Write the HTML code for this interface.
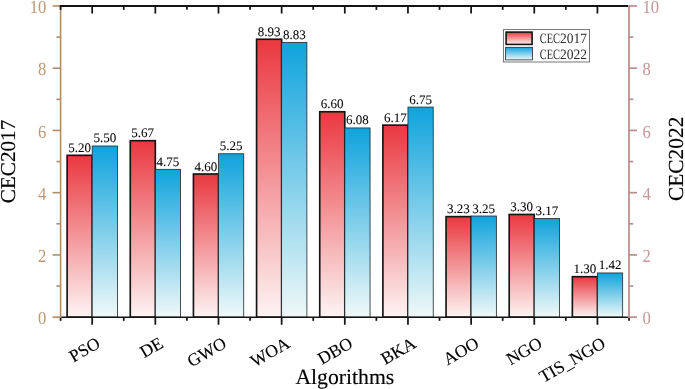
<!DOCTYPE html>
<html lang="en"><head><meta charset="utf-8"><title>Algorithms CEC2017 CEC2022</title>
<style>html,body{margin:0;padding:0;background:#fff;}body{width:685px;height:389px;overflow:hidden;}svg{display:block;}text{font-family:"Liberation Serif",serif;text-rendering:geometricPrecision;}</style>
</head><body>
<svg width="685" height="389" viewBox="0 0 685 389">
<defs>
<linearGradient id="gr" x1="0" y1="0" x2="0" y2="1"><stop offset="0" stop-color="#e9383f"/><stop offset="1" stop-color="#fdf4f3"/></linearGradient>
<linearGradient id="gb" x1="0" y1="0" x2="0" y2="1"><stop offset="0" stop-color="#0fa3dc"/><stop offset="1" stop-color="#f0f9f8"/></linearGradient>
</defs>
<rect x="0" y="0" width="685" height="389" fill="#ffffff"/>
<rect x="67.12" y="155.33" width="25.06" height="161.82" fill="url(#gr)" stroke="#141414" stroke-width="1.65"/>
<rect x="92.18" y="145.99" width="25.26" height="171.16" fill="url(#gb)" stroke="#20272a" stroke-width="0.8"/>
<rect x="130.27" y="140.70" width="25.06" height="176.45" fill="url(#gr)" stroke="#141414" stroke-width="1.65"/>
<rect x="155.33" y="169.33" width="25.26" height="147.82" fill="url(#gb)" stroke="#20272a" stroke-width="0.8"/>
<rect x="193.43" y="174.00" width="25.06" height="143.15" fill="url(#gr)" stroke="#141414" stroke-width="1.65"/>
<rect x="218.49" y="153.77" width="25.26" height="163.38" fill="url(#gb)" stroke="#20272a" stroke-width="0.8"/>
<rect x="256.58" y="39.25" width="25.06" height="277.90" fill="url(#gr)" stroke="#141414" stroke-width="1.65"/>
<rect x="281.64" y="42.36" width="25.26" height="274.79" fill="url(#gb)" stroke="#20272a" stroke-width="0.8"/>
<rect x="319.74" y="111.76" width="25.06" height="205.39" fill="url(#gr)" stroke="#141414" stroke-width="1.65"/>
<rect x="344.80" y="127.94" width="25.26" height="189.21" fill="url(#gb)" stroke="#20272a" stroke-width="0.8"/>
<rect x="382.89" y="125.14" width="25.06" height="192.01" fill="url(#gr)" stroke="#141414" stroke-width="1.65"/>
<rect x="407.96" y="107.09" width="25.26" height="210.06" fill="url(#gb)" stroke="#20272a" stroke-width="0.8"/>
<rect x="446.05" y="216.63" width="25.06" height="100.52" fill="url(#gr)" stroke="#141414" stroke-width="1.65"/>
<rect x="471.11" y="216.01" width="25.26" height="101.14" fill="url(#gb)" stroke="#20272a" stroke-width="0.8"/>
<rect x="509.20" y="214.45" width="25.06" height="102.70" fill="url(#gr)" stroke="#141414" stroke-width="1.65"/>
<rect x="534.27" y="218.50" width="25.26" height="98.65" fill="url(#gb)" stroke="#20272a" stroke-width="0.8"/>
<rect x="572.36" y="276.69" width="25.06" height="40.46" fill="url(#gr)" stroke="#141414" stroke-width="1.65"/>
<rect x="597.42" y="272.96" width="25.26" height="44.19" fill="url(#gb)" stroke="#20272a" stroke-width="0.8"/>
<text x="79.55" y="151.83" font-size="13" text-anchor="middle" fill="#000" stroke="#000" stroke-width="0.06">5.20</text>
<text x="104.81" y="142.49" font-size="13" text-anchor="middle" fill="#000" stroke="#000" stroke-width="0.06">5.50</text>
<text x="142.70" y="137.20" font-size="13" text-anchor="middle" fill="#000" stroke="#000" stroke-width="0.06">5.67</text>
<text x="167.96" y="165.83" font-size="13" text-anchor="middle" fill="#000" stroke="#000" stroke-width="0.06">4.75</text>
<text x="205.86" y="170.50" font-size="13" text-anchor="middle" fill="#000" stroke="#000" stroke-width="0.06">4.60</text>
<text x="231.12" y="150.27" font-size="13" text-anchor="middle" fill="#000" stroke="#000" stroke-width="0.06">5.25</text>
<text x="269.01" y="35.75" font-size="13" text-anchor="middle" fill="#000" stroke="#000" stroke-width="0.06">8.93</text>
<text x="294.28" y="38.86" font-size="13" text-anchor="middle" fill="#000" stroke="#000" stroke-width="0.06">8.83</text>
<text x="332.17" y="108.26" font-size="13" text-anchor="middle" fill="#000" stroke="#000" stroke-width="0.06">6.60</text>
<text x="357.43" y="124.44" font-size="13" text-anchor="middle" fill="#000" stroke="#000" stroke-width="0.06">6.08</text>
<text x="395.32" y="121.64" font-size="13" text-anchor="middle" fill="#000" stroke="#000" stroke-width="0.06">6.17</text>
<text x="420.59" y="103.59" font-size="13" text-anchor="middle" fill="#000" stroke="#000" stroke-width="0.06">6.75</text>
<text x="458.48" y="213.13" font-size="13" text-anchor="middle" fill="#000" stroke="#000" stroke-width="0.06">3.23</text>
<text x="483.74" y="212.51" font-size="13" text-anchor="middle" fill="#000" stroke="#000" stroke-width="0.06">3.25</text>
<text x="521.64" y="210.95" font-size="13" text-anchor="middle" fill="#000" stroke="#000" stroke-width="0.06">3.30</text>
<text x="546.90" y="215.00" font-size="13" text-anchor="middle" fill="#000" stroke="#000" stroke-width="0.06">3.17</text>
<text x="584.79" y="273.19" font-size="13" text-anchor="middle" fill="#000" stroke="#000" stroke-width="0.06">1.30</text>
<text x="610.05" y="269.46" font-size="13" text-anchor="middle" fill="#000" stroke="#000" stroke-width="0.06">1.42</text>
<g stroke="#b38c64" stroke-width="1.6" fill="none">
<line x1="60.6" y1="5.2" x2="60.6" y2="317.9"/>
<line x1="52.60" y1="317.15" x2="60.6" y2="317.15"/>
<line x1="56.40" y1="286.03" x2="60.6" y2="286.03"/>
<line x1="52.60" y1="254.91" x2="60.6" y2="254.91"/>
<line x1="56.40" y1="223.79" x2="60.6" y2="223.79"/>
<line x1="52.60" y1="192.67" x2="60.6" y2="192.67"/>
<line x1="56.40" y1="161.55" x2="60.6" y2="161.55"/>
<line x1="52.60" y1="130.43" x2="60.6" y2="130.43"/>
<line x1="56.40" y1="99.31" x2="60.6" y2="99.31"/>
<line x1="52.60" y1="68.19" x2="60.6" y2="68.19"/>
<line x1="56.40" y1="37.07" x2="60.6" y2="37.07"/>
<line x1="52.60" y1="5.95" x2="60.6" y2="5.95"/>
</g>
<g stroke="#141414" stroke-width="1.75" fill="none">
<line x1="59.80" y1="5.95" x2="628.20" y2="5.95" stroke-width="1.9"/>
<line x1="61.40" y1="317.20" x2="628.20" y2="317.20" stroke-width="1.6"/>
<line x1="92.18" y1="5.95" x2="92.18" y2="13.55"/>
<line x1="92.18" y1="317.15" x2="92.18" y2="324.75"/>
<line x1="155.33" y1="5.95" x2="155.33" y2="13.55"/>
<line x1="155.33" y1="317.15" x2="155.33" y2="324.75"/>
<line x1="218.49" y1="5.95" x2="218.49" y2="13.55"/>
<line x1="218.49" y1="317.15" x2="218.49" y2="324.75"/>
<line x1="281.64" y1="5.95" x2="281.64" y2="13.55"/>
<line x1="281.64" y1="317.15" x2="281.64" y2="324.75"/>
<line x1="344.80" y1="5.95" x2="344.80" y2="13.55"/>
<line x1="344.80" y1="317.15" x2="344.80" y2="324.75"/>
<line x1="407.96" y1="5.95" x2="407.96" y2="13.55"/>
<line x1="407.96" y1="317.15" x2="407.96" y2="324.75"/>
<line x1="471.11" y1="5.95" x2="471.11" y2="13.55"/>
<line x1="471.11" y1="317.15" x2="471.11" y2="324.75"/>
<line x1="534.27" y1="5.95" x2="534.27" y2="13.55"/>
<line x1="534.27" y1="317.15" x2="534.27" y2="324.75"/>
<line x1="597.42" y1="5.95" x2="597.42" y2="13.55"/>
<line x1="597.42" y1="317.15" x2="597.42" y2="324.75"/>
<line x1="60.60" y1="5.95" x2="60.60" y2="9.85"/>
<line x1="60.60" y1="317.90" x2="60.60" y2="320.85"/>
<line x1="123.76" y1="5.95" x2="123.76" y2="9.85"/>
<line x1="123.76" y1="317.15" x2="123.76" y2="320.85"/>
<line x1="186.91" y1="5.95" x2="186.91" y2="9.85"/>
<line x1="186.91" y1="317.15" x2="186.91" y2="320.85"/>
<line x1="250.07" y1="5.95" x2="250.07" y2="9.85"/>
<line x1="250.07" y1="317.15" x2="250.07" y2="320.85"/>
<line x1="313.22" y1="5.95" x2="313.22" y2="9.85"/>
<line x1="313.22" y1="317.15" x2="313.22" y2="320.85"/>
<line x1="376.38" y1="5.95" x2="376.38" y2="9.85"/>
<line x1="376.38" y1="317.15" x2="376.38" y2="320.85"/>
<line x1="439.53" y1="5.95" x2="439.53" y2="9.85"/>
<line x1="439.53" y1="317.15" x2="439.53" y2="320.85"/>
<line x1="502.69" y1="5.95" x2="502.69" y2="9.85"/>
<line x1="502.69" y1="317.15" x2="502.69" y2="320.85"/>
<line x1="565.84" y1="5.95" x2="565.84" y2="9.85"/>
<line x1="565.84" y1="317.15" x2="565.84" y2="320.85"/>
<line x1="629.00" y1="317.90" x2="629.00" y2="320.85"/>
</g>
<g stroke="#bb8b8e" stroke-width="1.7" fill="none">
<line x1="629.0" y1="5.2" x2="629.0" y2="317.9"/>
<line x1="629.0" y1="317.15" x2="637.00" y2="317.15"/>
<line x1="629.0" y1="286.03" x2="633.20" y2="286.03"/>
<line x1="629.0" y1="254.91" x2="637.00" y2="254.91"/>
<line x1="629.0" y1="223.79" x2="633.20" y2="223.79"/>
<line x1="629.0" y1="192.67" x2="637.00" y2="192.67"/>
<line x1="629.0" y1="161.55" x2="633.20" y2="161.55"/>
<line x1="629.0" y1="130.43" x2="637.00" y2="130.43"/>
<line x1="629.0" y1="99.31" x2="633.20" y2="99.31"/>
<line x1="629.0" y1="68.19" x2="637.00" y2="68.19"/>
<line x1="629.0" y1="37.07" x2="633.20" y2="37.07"/>
<line x1="629.0" y1="5.95" x2="637.00" y2="5.95"/>
</g>
<text x="38.10" y="324.40" font-size="18.4" textLength="8.30" lengthAdjust="spacingAndGlyphs" fill="#be9871">0</text>
<text x="642.5" y="324.40" font-size="18.4" textLength="8.30" lengthAdjust="spacingAndGlyphs" fill="#c4979a">0</text>
<text x="38.10" y="262.16" font-size="18.4" textLength="8.30" lengthAdjust="spacingAndGlyphs" fill="#be9871">2</text>
<text x="642.5" y="262.16" font-size="18.4" textLength="8.30" lengthAdjust="spacingAndGlyphs" fill="#c4979a">2</text>
<text x="38.10" y="199.92" font-size="18.4" textLength="8.30" lengthAdjust="spacingAndGlyphs" fill="#be9871">4</text>
<text x="642.5" y="199.92" font-size="18.4" textLength="8.30" lengthAdjust="spacingAndGlyphs" fill="#c4979a">4</text>
<text x="38.10" y="137.68" font-size="18.4" textLength="8.30" lengthAdjust="spacingAndGlyphs" fill="#be9871">6</text>
<text x="642.5" y="137.68" font-size="18.4" textLength="8.30" lengthAdjust="spacingAndGlyphs" fill="#c4979a">6</text>
<text x="38.10" y="75.44" font-size="18.4" textLength="8.30" lengthAdjust="spacingAndGlyphs" fill="#be9871">8</text>
<text x="642.5" y="75.44" font-size="18.4" textLength="8.30" lengthAdjust="spacingAndGlyphs" fill="#c4979a">8</text>
<text x="29.80" y="13.20" font-size="18.4" textLength="16.60" lengthAdjust="spacingAndGlyphs" fill="#be9871">10</text>
<text x="642.5" y="13.20" font-size="18.4" textLength="16.60" lengthAdjust="spacingAndGlyphs" fill="#c4979a">10</text>
<text transform="translate(101.38 346.6) rotate(-30)" font-size="17.5" text-anchor="end" fill="#000" stroke="#000" stroke-width="0.12">PSO</text>
<text transform="translate(164.53 346.6) rotate(-30)" font-size="17.5" text-anchor="end" fill="#000" stroke="#000" stroke-width="0.12">DE</text>
<text transform="translate(227.69 346.6) rotate(-30)" font-size="17.5" text-anchor="end" fill="#000" stroke="#000" stroke-width="0.12">GWO</text>
<text transform="translate(290.84 346.6) rotate(-30)" font-size="17.5" text-anchor="end" fill="#000" stroke="#000" stroke-width="0.12">WOA</text>
<text transform="translate(354.00 346.6) rotate(-30)" font-size="17.5" text-anchor="end" fill="#000" stroke="#000" stroke-width="0.12">DBO</text>
<text transform="translate(417.16 346.6) rotate(-30)" font-size="17.5" text-anchor="end" fill="#000" stroke="#000" stroke-width="0.12">BKA</text>
<text transform="translate(480.31 346.6) rotate(-30)" font-size="17.5" text-anchor="end" fill="#000" stroke="#000" stroke-width="0.12">AOO</text>
<text transform="translate(543.47 346.6) rotate(-30)" font-size="17.5" text-anchor="end" fill="#000" stroke="#000" stroke-width="0.12">NGO</text>
<text transform="translate(606.62 346.6) rotate(-30)" font-size="17.5" text-anchor="end" fill="#000" stroke="#000" stroke-width="0.12">TIS_NGO</text>
<text x="344.8" y="384.2" font-size="21.7" text-anchor="middle" fill="#000" stroke="#000" stroke-width="0.15">Algorithms</text>
<text transform="translate(15.1 161.5) rotate(-90)" font-size="21.2" text-anchor="middle" fill="#000" stroke="#000" stroke-width="0.15">CEC2017</text>
<text transform="translate(683.0 158.8) rotate(-90)" font-size="21.4" text-anchor="middle" fill="#000" stroke="#000" stroke-width="0.15">CEC2022</text>
<rect x="503.4" y="29.6" width="86.1" height="32.4" fill="#fff" stroke="#666" stroke-width="0.9"/>
<rect x="506.1" y="32.1" width="26.0" height="12.3" fill="url(#gr)" stroke="#141414" stroke-width="1.6"/>
<rect x="505.6" y="47.3" width="26.9" height="12.6" fill="url(#gb)" stroke="#20272a" stroke-width="0.8"/>
<text x="539.7" y="43.2" font-size="14.3" fill="#2a2a2a"><tspan textLength="20.3" lengthAdjust="spacingAndGlyphs">CEC</tspan><tspan textLength="27" lengthAdjust="spacingAndGlyphs">2017</tspan></text>
<text x="539.7" y="58.5" font-size="14.3" fill="#2a2a2a"><tspan textLength="20.3" lengthAdjust="spacingAndGlyphs">CEC</tspan><tspan textLength="27" lengthAdjust="spacingAndGlyphs">2022</tspan></text>
</svg>
</body></html>
